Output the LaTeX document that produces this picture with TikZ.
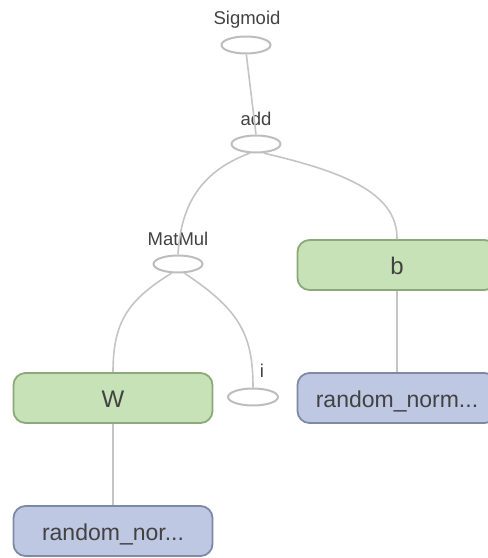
\documentclass[tikz,border=0pt]{standalone}
\usepackage{fontspec}
\setmainfont{Liberation Sans}
\usetikzlibrary{shapes.geometric}
\definecolor{edgegray}{HTML}{C4C4C4}
\definecolor{opline}{HTML}{BDBDBD}
\definecolor{txt}{HTML}{424242}
\definecolor{varfill}{HTML}{C6E2B6}
\definecolor{varline}{HTML}{8CA97A}
\definecolor{rndfill}{HTML}{BEC8E2}
\definecolor{rndline}{HTML}{7E89A6}
\tikzset{
  op/.style={ellipse, draw=opline, line width=2pt, fill=white,
    minimum width=49pt, minimum height=17pt, inner sep=0pt},
  oplabel/.style={anchor=base, text=txt, font=\fontsize{18.5}{20}\selectfont, inner sep=0pt},
  varbox/.style={rounded corners=12pt, draw=varline, fill=varfill, line width=1.8pt,
    minimum width=199pt, minimum height=50pt, inner sep=0pt, text=txt,
    text height=19pt, text depth=0pt, font=\fontsize{24}{26}\selectfont},
  rndbox/.style={varbox, draw=rndline, fill=rndfill, font=\fontsize{23}{26}\selectfont},
  edge/.style={draw=edgegray, line width=1.6pt}
}
\begin{document}
\begin{tikzpicture}[x=1pt,y=-1pt]
\useasboundingbox (0,0) rectangle (488,558);
% operation ellipses and their captions
\node[op] (sig) at (246,45) {};
\node[oplabel] (siglab) at (247,24) {Sigmoid};
\node[op] (add) at (256,144) {};
\node[oplabel] (addlab) at (256,125) {add};
\node[op] (mm) at (178,264) {};
\node[oplabel] (mmlab) at (178,245) {MatMul};
\node[op,minimum width=50pt] (inp) at (253,397) {};
\node[oplabel] (inplab) at (262,377) {i};
% variables and their initialisers
\node[varbox] (b) at (397,265) {b};
\node[rndbox] (rb) at (397,398) {random\_norm...};
\node[varbox] (W) at (113,398) {W};
\node[rndbox] (rw) at (113,531) {random\_nor...};
% data-flow edges
\draw[edge] (sig.272) -- (add.north);
\draw[edge] (add.235) .. controls (205,170) and (181,200) .. (mm.90);
\draw[edge] (add.310) .. controls (335,170) and (398,190) .. (b.north);
\draw[edge] (b.south) -- (rb.north);
\draw[edge] (mm.235) .. controls (128,300) and (113,322) .. (W.north);
\draw[edge] (mm.305) .. controls (240,310) and (253,335) .. (inp.north);
\draw[edge] (W.south) -- (rw.north);
\end{tikzpicture}
\end{document}
